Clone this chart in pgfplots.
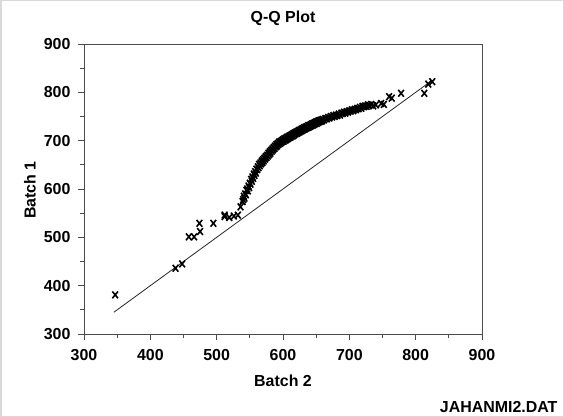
\documentclass[border=0pt]{standalone}
\usepackage{fontspec}
\setmainfont{Liberation Sans}
\usepackage{pgfplots}
\pgfplotsset{compat=1.18}

\begin{document}
\begin{tikzpicture}
\useasboundingbox (0,0) rectangle (564bp,417bp);
\draw[gray!30, line width=1.5bp] (0.75bp,0.75bp) rectangle (563.25bp,416.25bp);
\begin{axis}[
    at={(84bp,83bp)}, anchor=south west,
    scale only axis,
    width=398bp, height=290bp,
    xmin=300, xmax=900, ymin=300, ymax=900,
    xtick={300,400,...,900}, ytick={300,400,...,900},
    minor tick num=1,
    tick align=outside,
    major tick length=6bp, minor tick length=4bp,
    axis line style={gray!60!black, line width=0.9bp},
    every tick/.style={gray!60!black, line width=0.8bp},
    /pgf/number format/assume math mode=true,
    ticklabel style={font=\bfseries\fontsize{16}{16}\selectfont},
    xticklabel style={yshift=-6bp},
    yticklabel style={xshift=-4bp},
    xtick pos=bottom, ytick pos=left,
    clip=false,
]
\addplot[gray!30!black, line width=0.8bp] coordinates {(345,345) (825,825)};
\addplot[only marks, mark=x, mark size=4bp, line width=1.6bp, black,
    mark options={yscale=1.2}] coordinates {
(347,381) (438,436) (448,445) (458,501) (466,501) (474,529) (475,512) (495,529)
(512,546) (512,543) (519,541) (526,544) (532,546) (536,563) (539,574)
(540,578) (541,585) (542,581) (543,590) (544,588) (545,597) (546,600) (547,596)
(548,606) (549,603) (550,612) (551,610) (552,620) (553,616) (554,625) (555,622)
(556,631) (557,628) (558,636) (559,633) (560,641)
(561,640) (562,646) (563,644) (564,651) (565,648) (566,654) (567,652) (568,658)
(569,655) (570,661) (571,658) (572,664) (573,662) (574,667) (575,665) (576,670)
(577,668) (578,674) (579,671) (580,677)
(581,674) (582,680) (583,678) (584,683) (585,681) (586,686) (587,684) (588,689)
(589,687) (590,692) (591,689) (592,694) (593,692) (594,697) (595,694) (596,698)
(597,696) (598,700) (599,698) (600,702) (601,699) (602,704) (603,701) (604,705)
(605,702) (606,707) (607,704)
(608,708) (609,706) (610,710) (611,707) (612,711) (613,709) (614,713) (615,710)
(616,715) (617,712) (618,716) (619,714) (620,718) (621,715) (622,719) (623,717)
(624,721) (625,718) (626,722) (627,720) (628,724) (629,721) (630,725) (631,723)
(632,727) (633,724) (634,728) (635,726) (636,729) (637,727) (638,731) (639,728)
(640,732) (641,730) (642,733) (643,731) (644,735) (645,732) (646,736) (647,734)
(648,737) (649,735) (650,739)
(651,736) (652,740) (653,738) (654,741) (655,739) (656,742) (657,740) (658,743)
(659,741) (660,744) (662,743) (664,746) (666,745) (668,748) (670,747) (672,750)
(674,749) (676,752) (678,750) (680,753) (682,752) (684,755) (686,753) (688,757)
(690,756)
(692,759) (694,757) (696,760) (698,759) (700,762) (702,761) (704,764) (706,762)
(708,765) (710,764) (712,767) (714,766) (716,769) (718,767) (720,771) (722,770)
(724,772) (726,771) (728,774) (730,773)
(733,775) (736,772) (740,774) (748,777) (752,775) (760,791) (764,788) (778,798)
(813,798) (819,817) (825,822)
};
\end{axis}
\node[font=\bfseries\fontsize{16}{16}\selectfont] at (283bp,399bp) {Q-Q Plot};
\node[font=\bfseries\fontsize{16}{16}\selectfont] at (283bp,36bp) {Batch 2};
\node[font=\bfseries\fontsize{16}{16}\selectfont, rotate=90] at (30bp,227bp) {Batch 1};
\node[font=\bfseries\fontsize{16}{16}\selectfont, anchor=east] at (561bp,10bp) {JAHANMI2.DAT};
\end{tikzpicture}
\end{document}
